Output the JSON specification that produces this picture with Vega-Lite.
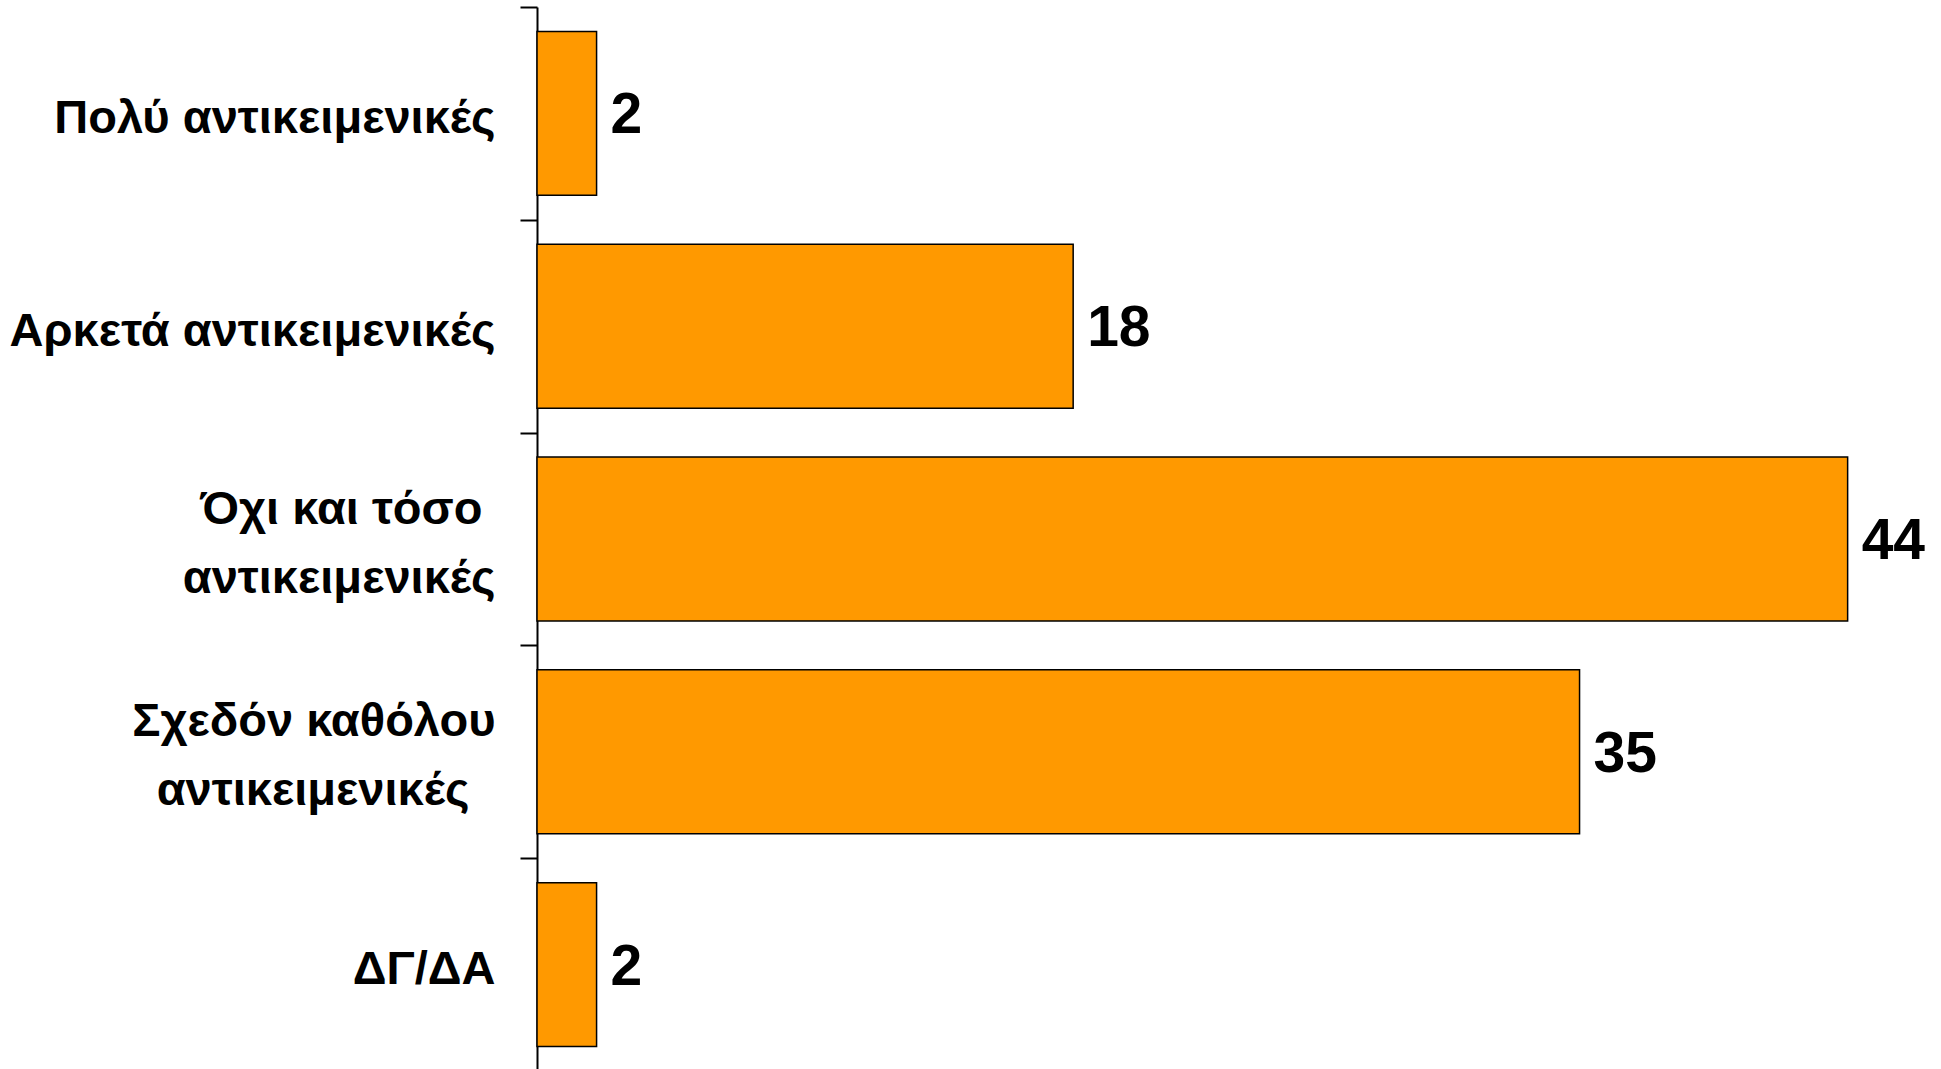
{
  "$schema": "https://vega.github.io/schema/vega-lite/v6.json",
  "autosize": "none",
  "width": 1400,
  "height": 1064,
  "padding": {"left": 537, "top": 7, "right": 4, "bottom": 0},
  "background": "white",
  "config": {"view": {"stroke": null}},
  "data": {"values": [
    {"category": "Πολύ αντικειμενικές", "value": 2},
    {"category": "Αρκετά αντικειμενικές", "value": 18},
    {"category": "Όχι και τόσο αντικειμενικές", "value": 44},
    {"category": "Σχεδόν καθόλου αντικειμενικές", "value": 35},
    {"category": "ΔΓ/ΔΑ", "value": 2}
  ]},
  "encoding": {
    "y": {
      "field": "category", "type": "nominal", "sort": null,
      "scale": {"paddingInner": 0, "paddingOuter": 0},
      "axis": {
        "title": null,
        "domainColor": "black", "domainWidth": 2,
        "tickColor": "black", "tickWidth": 2, "tickSize": 17, "tickBand": "extent",
        "labelFont": "Liberation Sans",
        "labelFontWeight": "bold", "labelFontSize": 47, "labelColor": "black",
        "labelPadding": 25, "labelLimit": 700, "labelLineHeight": 69,
        "labelOffset": {"condition": {"test": "datum.value == 'Όχι και τόσο αντικειμενικές' || datum.value == 'Σχεδόν καθόλου αντικειμενικές'", "value": -30}, "value": 5},
        "labelExpr": "datum.label == 'Όχι και τόσο αντικειμενικές' ? ['Όχι και τόσο\u00a0\u200b', 'αντικειμενικές'] : datum.label == 'Σχεδόν καθόλου αντικειμενικές' ? ['Σχεδόν καθόλου', 'αντικειμενικές\u00a0\u00a0\u200b'] : datum.label"
      }
    },
    "x": {
      "field": "value", "type": "quantitative",
      "scale": {"domain": [0, 47], "nice": false},
      "axis": null
    }
  },
  "layer": [
    {"mark": {"type": "bar", "color": "#ff9900", "stroke": "black", "strokeWidth": 1.5, "height": {"band": 0.77}}},
    {"mark": {"type": "text", "align": "left", "baseline": "middle", "dx": 14, "dy": 3,
      "font": "Liberation Sans",
      "fontWeight": "bold", "fontSize": 57, "color": "black"},
     "encoding": {"text": {"field": "value", "type": "quantitative"}}}
  ]
}
